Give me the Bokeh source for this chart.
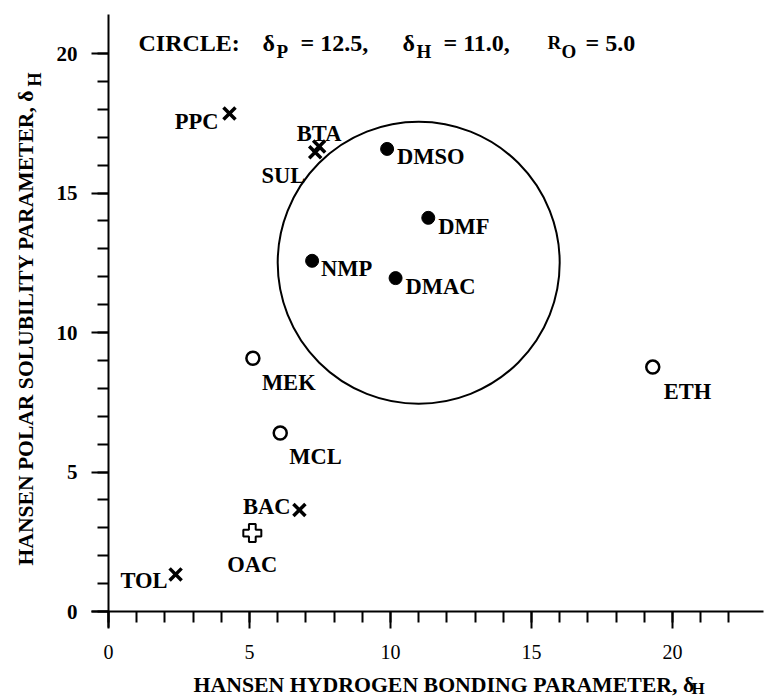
import math
from bokeh.plotting import figure
from bokeh.models import Range1d, FixedTicker, Label, ColumnDataSource
from bokeh.core.properties import value
from bokeh.embed import file_html
from bokeh.resources import INLINE

# ---------------- data ----------------
solvents = ["PPC", "BTA", "SUL", "DMSO", "DMF", "NMP", "DMAC",
            "MEK", "MCL", "ETH", "BAC", "OAC", "TOL"]
delta_h = [4.29, 7.47, 7.33, 9.88, 11.34, 7.22, 10.18,
           5.12, 6.09, 19.30, 6.77, 5.10, 2.38]
delta_p = [17.85, 16.67, 16.46, 16.58, 14.11, 12.57, 11.95,
           9.08, 6.40, 8.76, 3.64, 2.81, 1.33]
solvent_class = ["cross", "cross", "cross", "filled", "filled", "filled", "filled",
                 "open", "open", "open", "cross", "plus", "cross"]

circle_dp = 12.5
circle_dh = 11.0
circle_r = 5.0

x_ticks = [0, 5, 10, 15, 20]
y_ticks = [0, 5, 10, 15, 20]
x_minor = list(range(0, 23))
y_minor = list(range(0, 21))

# ---------------- styles (label placement in px) ----------------
label_dx = [-11, 0, -10, 10, 10, 9, 10, 9, 9, 11, -9, 0, -8]
label_dy = [8, -13, 23, 8, 9, 8, 8, 24, 24, 24, -3, 31, 6]
label_align = ["right", "center", "right", "left", "left", "left", "left",
               "left", "left", "left", "right", "center", "right"]

FONT = value("Liberation Serif")

FIG_W, FIG_H = 766, 698
ORIGIN_X, ORIGIN_Y = 108, 611      # page pixel of (0, 0)
XS, YS = 28.2, 27.9                # pixels per unit
X_START = -ORIGIN_X / XS
X_END = X_START + FIG_W / XS
Y_END = ORIGIN_Y / YS
Y_START = Y_END - FIG_H / YS


def px_x(page_x):
    return X_START + page_x / XS


def px_y(page_y):
    return Y_END - page_y / YS


p = figure(width=FIG_W, height=FIG_H, output_backend="svg", toolbar_location=None,
           x_range=Range1d(X_START, X_END), y_range=Range1d(Y_START, Y_END),
           min_border=0, min_border_left=0, min_border_right=0,
           min_border_top=0, min_border_bottom=0)
p.outline_line_color = None
p.xgrid.visible = False
p.ygrid.visible = False
p.background_fill_color = "white"
p.border_fill_color = "white"

for ax in (p.xaxis, p.yaxis):
    ax.fixed_location = 0
    ax.axis_line_color = None
    ax.major_tick_line_color = "black"
    ax.minor_tick_line_color = "black"
    ax.major_tick_line_width = 2
    ax.minor_tick_line_width = 2
    ax.major_tick_in = 0
    ax.minor_tick_in = 0
    ax.major_tick_out = 17
    ax.minor_tick_out = 11
    ax.major_label_text_font = "Liberation Serif"
    ax.major_label_text_color = "black"

p.xaxis.ticker = FixedTicker(ticks=x_ticks, minor_ticks=x_minor)
p.yaxis.ticker = FixedTicker(ticks=y_ticks, minor_ticks=y_minor)
p.xaxis.major_label_text_font_size = "20px"
p.xaxis.major_label_text_font_style = "normal"
p.xaxis.major_label_standoff = 16
p.yaxis.major_label_text_font_size = "21px"
p.yaxis.major_label_text_font_style = "bold"
p.yaxis.major_label_standoff = 14

# axis lines (cross at the origin, as in the original drawing)
p.segment(x0=[px_x(91), 0], y0=[0, px_y(627)], x1=[px_x(763), 0], y1=[0, px_y(14)],
          line_color="black", line_width=2)

# circle of solubility
p.circle(x=[circle_dh], y=[circle_dp], radius=circle_r, radius_dimension="x",
         fill_color=None, line_color="black", line_width=2)

# markers
def subset(cls):
    idx = [i for i, c in enumerate(solvent_class) if c == cls]
    return ColumnDataSource(dict(x=[delta_h[i] for i in idx], y=[delta_p[i] for i in idx]))

p.scatter("x", "y", source=subset("cross"), marker="x", size=17,
          line_color="black", line_width=3.5)
p.scatter("x", "y", source=subset("filled"), marker="circle", size=13,
          fill_color="black", line_color="black")
p.scatter("x", "y", source=subset("open"), marker="circle", size=13,
          fill_color="white", line_color="black", line_width=2.5)
p.scatter("x", "y", source=subset("plus"), marker="plus", size=18,
          fill_color="white", line_color="black", line_width=2)

# data labels
lab_src = ColumnDataSource(dict(x=delta_h, y=delta_p, text=solvents,
                                dx=label_dx, dy=label_dy, align=label_align))
p.text("x", "y", text="text", source=lab_src, x_offset="dx", y_offset="dy",
       text_align="align", text_baseline="alphabetic", text_font=FONT,
       text_font_style="bold", text_font_size="22.5px", text_color="black")


def add_label(txt, page_x, page_y, size, angle=0.0):
    p.add_layout(Label(x=px_x(page_x), y=px_y(page_y), text=txt, angle=angle,
                       text_font="Liberation Serif", text_font_style="bold",
                       text_font_size=f"{size}px", text_color="black",
                       text_align="left", text_baseline="alphabetic"))


# title
title_parts = [("CIRCLE:", 138, 42, 24), ("δ", 262, 42, 24), ("P", 276, 51, 19),
               ("= 12.5,", 300, 42, 24), ("δ", 402, 42, 24), ("H", 416, 51, 19),
               ("= 11.0,", 443, 42, 24), ("R", 547, 42, 19), ("O", 561, 51, 19),
               ("= 5.0", 585, 42, 24)]
for t, px_, py_, s in title_parts:
    add_label(t, px_, py_, s)

# axis labels
add_label("HANSEN HYDROGEN BONDING PARAMETER, δ", 193, 684, 21.8)
add_label("H", 691, 688, 17)
add_label("HANSEN POLAR SOLUBILITY PARAMETER, δ", 25, 565, 21.6, angle=math.pi / 2)
add_label("H", 34, 86, 18, angle=math.pi / 2)

open("out.html", "w").write(file_html(p, INLINE))
